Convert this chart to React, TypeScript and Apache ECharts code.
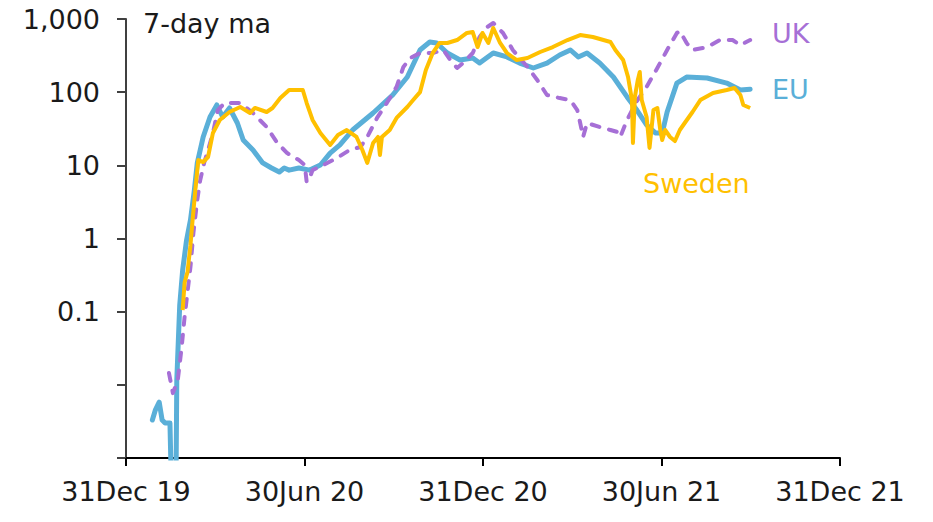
import React, { useEffect, useRef } from "react";
import * as echarts from "echarts";

const xTickLabels = ["31Dec 19", "30Jun 20", "31Dec 20", "30Jun 21", "31Dec 21"];
// exponents -3 .. 3
const yTickLabels = ["", "", "0.1", "1", "10", "100", "1,000"];

const euDates = [
  "2020-01-27", "2020-01-30", "2020-02-03", "2020-02-06", "2020-02-09", "2020-02-14", "2020-02-16", "2020-02-20",
  "2020-02-21", "2020-02-24", "2020-02-27", "2020-03-02", "2020-03-06", "2020-03-10", "2020-03-13", "2020-03-19",
  "2020-03-26", "2020-04-02", "2020-04-08", "2020-04-15", "2020-04-23", "2020-04-29", "2020-05-09", "2020-05-19",
  "2020-05-28", "2020-06-05", "2020-06-10", "2020-06-15", "2020-06-25", "2020-07-06", "2020-07-17", "2020-07-27",
  "2020-08-06", "2020-08-19", "2020-09-09", "2020-09-29", "2020-10-14", "2020-10-27", "2020-11-06", "2020-11-13",
  "2020-11-24", "2020-12-07", "2020-12-20", "2020-12-27", "2021-01-10", "2021-01-24", "2021-02-06", "2021-02-20",
  "2021-03-06", "2021-03-19", "2021-03-30", "2021-04-07", "2021-04-16", "2021-04-29", "2021-05-13", "2021-05-27",
  "2021-06-06", "2021-06-16", "2021-06-25", "2021-07-02", "2021-07-07", "2021-07-17", "2021-07-27", "2021-08-17",
  "2021-09-06", "2021-09-20", "2021-09-30",
];
const euValues = [
  0.0033, 0.0045, 0.0058, 0.0033, 0.003, 0.003, 0.0002, 0.0002,
  0.0116, 0.123, 0.37, 0.95, 1.79, 4.6, 10.8, 24.4,
  45.8, 66.8, 45.8, 60.8, 37.9, 22.2, 16.2, 10.8,
  9.2, 8.1, 9.2, 8.6, 9.2, 8.6, 10.1, 14.7,
  19, 30.4, 51.9, 91.5, 161, 377, 485, 470,
  343, 275, 293, 250, 343, 303, 250, 214,
  250, 322, 377, 303, 343, 250, 161, 86,
  57, 35.6, 27.7, 27.7, 53.6, 133, 161, 156,
  133, 107, 110,
];

const ukDates = [
  "2020-02-13", "2020-02-17", "2020-02-22", "2020-02-26", "2020-02-29", "2020-03-06", "2020-03-09", "2020-03-13",
  "2020-03-16", "2020-03-20", "2020-03-24", "2020-03-29", "2020-04-03", "2020-04-10", "2020-04-26", "2020-05-09",
  "2020-05-23", "2020-06-03", "2020-06-13", "2020-06-25", "2020-07-01", "2020-07-03", "2020-07-06", "2020-07-09",
  "2020-07-20", "2020-08-03", "2020-08-16", "2020-08-27", "2020-09-03", "2020-09-13", "2020-09-23", "2020-10-03",
  "2020-10-10", "2020-10-17", "2020-10-27", "2020-11-09", "2020-11-20", "2020-11-27", "2020-12-04", "2020-12-10",
  "2020-12-20", "2020-12-27", "2021-01-04", "2021-01-10", "2021-01-20", "2021-01-30", "2021-02-14", "2021-02-24",
  "2021-03-06", "2021-03-19", "2021-03-30", "2021-04-06", "2021-04-09", "2021-04-12", "2021-04-16", "2021-04-29",
  "2021-05-10", "2021-05-17", "2021-05-20", "2021-05-27", "2021-06-06", "2021-06-16", "2021-06-27", "2021-07-07",
  "2021-07-17", "2021-07-20", "2021-07-27", "2021-08-02", "2021-08-17", "2021-08-30", "2021-09-12", "2021-09-20",
  "2021-09-30",
];
const ukValues = [
  0.0145, 0.0077, 0.0116, 0.033, 0.085, 0.41, 1.19, 3.4,
  6.3, 10.8, 16.2, 27.7, 57, 71, 71, 51.9,
  33.4, 20.2, 14.7, 11.8, 10.1, 5.9, 6.7, 8.6,
  10.1, 12.6, 16.2, 17.8, 24.4, 44.4, 71, 118,
  221, 293, 343, 343, 377, 275, 214, 250,
  343, 567, 778, 882, 644, 377, 221, 147,
  91.5, 83, 78, 57, 37.9, 24.4, 37.9, 33.4,
  30.4, 28.6, 24.4, 41.7, 75.7, 118, 214, 377,
  644, 685, 470, 377, 414, 516, 516, 441,
  516,
];

const swedenDates = [
  "2020-02-27", "2020-02-29", "2020-03-03", "2020-03-06", "2020-03-08", "2020-03-11", "2020-03-14", "2020-03-19",
  "2020-03-24", "2020-03-29", "2020-04-05", "2020-04-15", "2020-04-26", "2020-05-06", "2020-05-11", "2020-05-23",
  "2020-05-29", "2020-06-06", "2020-06-15", "2020-06-29", "2020-07-03", "2020-07-09", "2020-07-17", "2020-07-27",
  "2020-08-04", "2020-08-13", "2020-08-23", "2020-08-29", "2020-09-03", "2020-09-09", "2020-09-14", "2020-09-16",
  "2020-09-18", "2020-09-26", "2020-10-03", "2020-10-14", "2020-10-20", "2020-10-27", "2020-11-02", "2020-11-09",
  "2020-11-16", "2020-11-24", "2020-12-04", "2020-12-14", "2020-12-20", "2020-12-25", "2020-12-30", "2021-01-05",
  "2021-01-10", "2021-01-17", "2021-01-24", "2021-02-03", "2021-02-14", "2021-02-27", "2021-03-12", "2021-03-27",
  "2021-04-09", "2021-04-22", "2021-05-10", "2021-05-15", "2021-05-23", "2021-05-28", "2021-06-01", "2021-06-02",
  "2021-06-04", "2021-06-07", "2021-06-09", "2021-06-11", "2021-06-16", "2021-06-19", "2021-06-23", "2021-06-27",
  "2021-06-30", "2021-07-02", "2021-07-05", "2021-07-10", "2021-07-15", "2021-07-20", "2021-07-25", "2021-08-02",
  "2021-08-10", "2021-08-23", "2021-09-06", "2021-09-14", "2021-09-20", "2021-09-23", "2021-09-30",
];
const swedenValues = [
  0.105, 0.25, 0.35, 0.81, 1.68, 4.6, 11.8, 11.1,
  13, 27.7, 41.7, 53.6, 62.7, 51.9, 60.8, 53.6,
  60.8, 83, 107, 107, 71, 41.7, 27.7, 19,
  26, 30.4, 24.4, 16.2, 10.8, 20.2, 24.4, 13.8,
  24.4, 30.4, 44.4, 62.7, 78, 100, 201, 343,
  470, 470, 516, 644, 664, 414, 644, 470,
  754, 470, 343, 275, 293, 354, 414, 516,
  604, 567, 485, 377, 275, 161, 78, 20.2,
  86, 147, 189, 78, 45.8, 17.3, 57, 60.8,
  30.4, 22.2, 30.4, 24.4, 21.5, 30.4, 37.9, 53.6,
  78, 97.5, 107, 114, 91.5, 66.8, 60.8,
];

const ORIGIN = Date.parse("2019-12-31");
const SPAN_DAYS = 731;
const TICK_DAYS = SPAN_DAYS / 4;
const toDay = (d: string) => (Date.parse(d) - ORIGIN) / 86400000;
const pairs = (dates: string[], values: number[]) => dates.map((d, i) => [toDay(d), values[i]]);

const FONT = '"DejaVu Sans", "Open Sans", sans-serif';
const EU_COLOR = "#5AAFD8";
const UK_COLOR = "#A66FD6";
const SE_COLOR = "#FFC000";
const TEXT_COLOR = "#1a1a1a";

export default function App() {
  const ref = useRef<HTMLDivElement>(null);
  useEffect(() => {
    if (!ref.current) return;
    const chart = echarts.init(ref.current, undefined, { renderer: "svg" });
    chart.setOption({
      animation: false,
      grid: { left: 126, right: 93, top: 19, bottom: 64, containLabel: false },
      xAxis: {
        type: "value",
        min: 0,
        max: SPAN_DAYS,
        interval: TICK_DAYS,
        axisLine: { show: true, lineStyle: { color: "#000", width: 2 } },
        axisTick: { show: true, length: 8, lineStyle: { color: "#000", width: 2 } },
        splitLine: { show: false },
        axisLabel: {
          formatter: (v: number) => xTickLabels[Math.round(v / TICK_DAYS)] ?? "",
          fontSize: 27,
          fontFamily: FONT,
          color: TEXT_COLOR,
          margin: 20,
          showMinLabel: true,
          showMaxLabel: true,
        },
      },
      yAxis: {
        type: "log",
        logBase: 10,
        min: 0.001,
        max: 1000,
        splitNumber: 6,
        axisLine: { show: true, lineStyle: { color: "#404040", width: 2 } },
        axisTick: { show: true, length: 9, lineStyle: { color: "#404040", width: 2 } },
        splitLine: { show: false },
        axisLabel: {
          formatter: (v: number) => yTickLabels[Math.round(Math.log10(v)) + 3] ?? "",
          fontSize: 27,
          fontFamily: FONT,
          color: TEXT_COLOR,
          margin: 26,
        },
      },
      series: [
        {
          name: "EU",
          type: "line",
          data: pairs(euDates, euValues),
          symbol: "none",
          clip: true,
          lineStyle: { color: EU_COLOR, width: 5, join: "round", cap: "round" },
          z: 2,
        },
        {
          name: "UK",
          type: "line",
          data: pairs(ukDates, ukValues),
          symbol: "none",
          clip: true,
          lineStyle: { color: UK_COLOR, width: 4, type: [8, 10], cap: "round", join: "round" },
          z: 3,
        },
        {
          name: "Sweden",
          type: "line",
          data: pairs(swedenDates, swedenValues),
          symbol: "none",
          clip: true,
          lineStyle: { color: SE_COLOR, width: 4, join: "round" },
          z: 4,
        },
      ],
      graphic: [
        {
          type: "text",
          x: 143,
          y: 23,
          style: { text: "7-day ma", fill: TEXT_COLOR, font: `27px ${FONT}`, textAlign: "left", textVerticalAlign: "middle" },
        },
        {
          type: "text",
          x: 772,
          y: 33,
          style: { text: "UK", fill: UK_COLOR, font: `27px ${FONT}`, textAlign: "left", textVerticalAlign: "middle" },
        },
        {
          type: "text",
          x: 772,
          y: 89,
          style: { text: "EU", fill: EU_COLOR, font: `27px ${FONT}`, textAlign: "left", textVerticalAlign: "middle" },
        },
        {
          type: "text",
          x: 643,
          y: 183,
          style: { text: "Sweden", fill: SE_COLOR, font: `27px ${FONT}`, textAlign: "left", textVerticalAlign: "middle" },
        },
      ],
    });
    return () => chart.dispose();
  }, []);
  return (
    <div
      ref={ref}
      style={{ position: "fixed", left: 0, top: 0, width: 933, height: 522, background: "#fff" }}
    />
  );
}
